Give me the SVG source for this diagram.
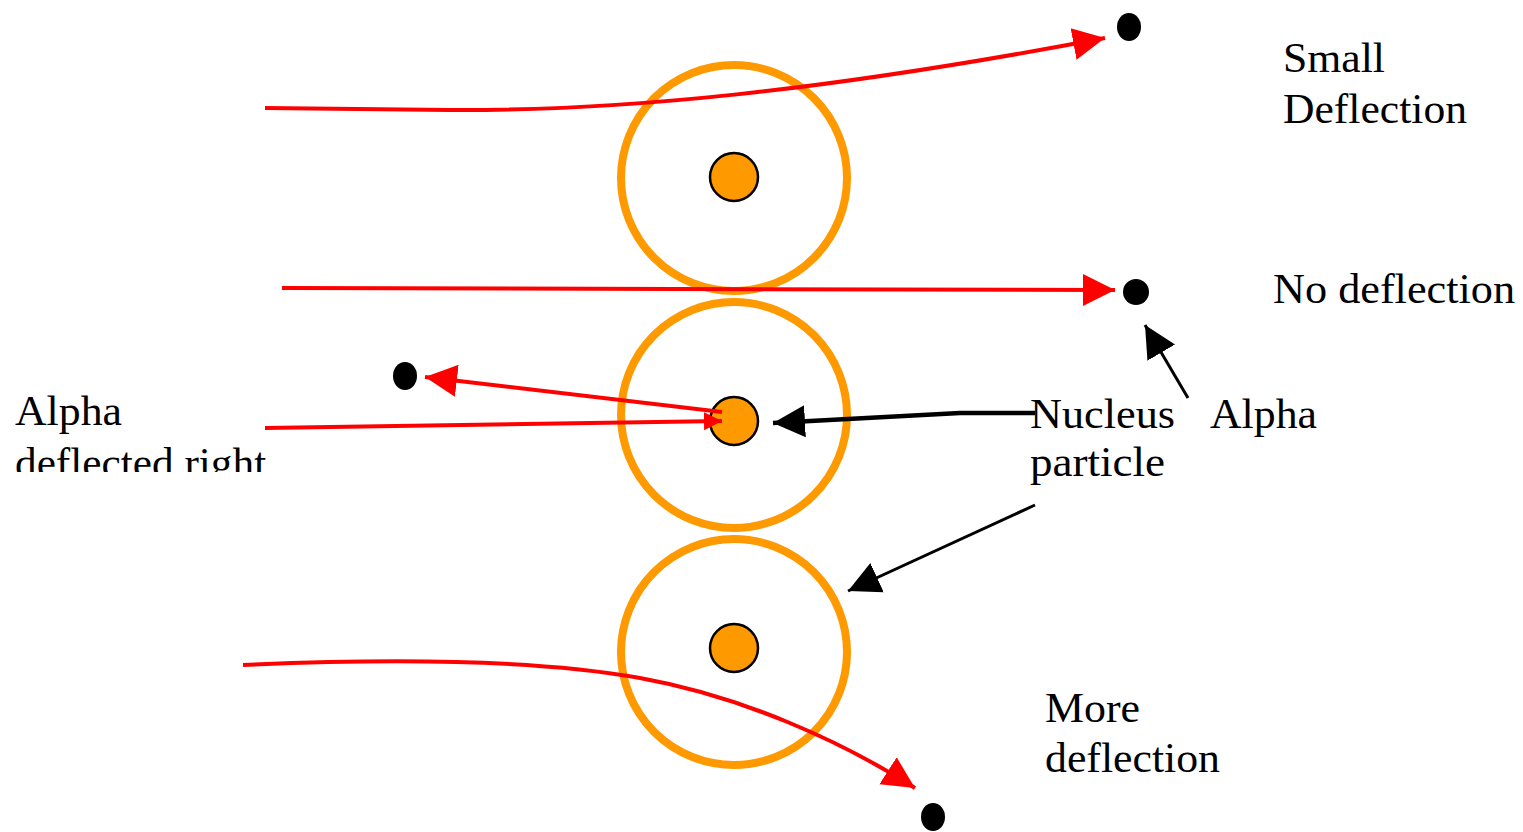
<svg xmlns="http://www.w3.org/2000/svg" width="1523" height="832" viewBox="0 0 1523 832">
<style>
.atom{fill:none;stroke:#FF9900;stroke-width:8}
.nuc{fill:#FF9900;stroke:#000;stroke-width:2.5}
.dot{fill:#000}
.ray{fill:none;stroke:#FF0000;stroke-width:4}
.ptr{fill:none;stroke:#000;stroke-width:3.5}
.lbl{font-family:"Liberation Serif","Times New Roman",serif;font-size:42px;fill:#000}
</style>
<defs>
<marker id="ra" markerUnits="userSpaceOnUse" markerWidth="36" markerHeight="36" refX="32" refY="16" orient="auto" viewBox="0 0 36 32">
<path d="M0,0 L32,16 L0,32 Z" fill="#FF0000"/>
</marker>
<marker id="rs" markerUnits="userSpaceOnUse" markerWidth="20" markerHeight="20" refX="18" refY="9" orient="auto" viewBox="0 0 20 18">
<path d="M0,0 L18,9 L0,18 Z" fill="#FF0000"/>
</marker>
<marker id="ba" markerUnits="userSpaceOnUse" markerWidth="36" markerHeight="36" refX="32" refY="16" orient="auto" viewBox="0 0 36 32">
<path d="M0,0 L32,16 L0,32 Z" fill="#000"/>
</marker>
<clipPath id="clipL"><rect x="0" y="380" width="320" height="92"/></clipPath>
</defs>
<g id="atom-top">
<circle class="atom" cx="734" cy="178" r="113"/>
<circle class="nuc" cx="734" cy="177" r="24"/>
</g>
<g id="atom-middle">
<circle class="atom" cx="734" cy="415" r="113"/>
<circle class="nuc" cx="734" cy="421" r="24"/>
</g>
<g id="atom-bottom">
<circle class="atom" cx="734" cy="652" r="113"/>
<circle class="nuc" cx="734" cy="648" r="24"/>
</g>
<g id="particles">
<ellipse class="dot" cx="1129" cy="27" rx="12" ry="14"/>
<ellipse class="dot" cx="1136" cy="292" rx="13" ry="13"/>
<ellipse class="dot" cx="405" cy="376" rx="12" ry="14"/>
<ellipse class="dot" cx="933" cy="817" rx="12" ry="14"/>
</g>
<g id="connectors">
<path class="ray" d="M265,108 L450,110 C620,111 820,92 1105,38" marker-end="url(#ra)"/>
<path class="ray" d="M282,288 L1115,290" marker-end="url(#ra)"/>
<path class="ray" d="M265,428 L722,421" marker-end="url(#rs)"/>
<path class="ray" d="M722,412 L425,377" marker-end="url(#ra)"/>
<path class="ray" d="M243,665 C400,658 540,660 640,678 C740,696 840,740 915,788" marker-end="url(#ra)"/>
<path class="ptr" style="stroke-width:4.5" d="M1035,413 L960,413 L773,423" marker-end="url(#ba)"/>
<path class="ptr" style="stroke-width:3" d="M1035,505 L848,591" marker-end="url(#ba)"/>
<path class="ptr" style="stroke-width:3" d="M1188,398 L1145,325" marker-end="url(#ba)"/>
</g>
<g id="labels">
<text class="lbl" x="1283" y="72" textLength="102" lengthAdjust="spacingAndGlyphs">Small</text>
<text class="lbl" x="1283" y="123" textLength="184" lengthAdjust="spacingAndGlyphs">Deflection</text>
<text class="lbl" x="1273" y="303" textLength="242" lengthAdjust="spacingAndGlyphs">No deflection</text>
<text class="lbl" x="1030" y="428" textLength="145" lengthAdjust="spacingAndGlyphs">Nucleus</text>
<text class="lbl" x="1030" y="476" textLength="135" lengthAdjust="spacingAndGlyphs">particle</text>
<text class="lbl" x="1210" y="428" textLength="107" lengthAdjust="spacingAndGlyphs">Alpha</text>
<text class="lbl" x="15" y="425" textLength="107" lengthAdjust="spacingAndGlyphs">Alpha</text>
<text class="lbl" x="15" y="477" textLength="262" lengthAdjust="spacingAndGlyphs" clip-path="url(#clipL)">deflected right.</text>
<text class="lbl" x="1045" y="722" textLength="95" lengthAdjust="spacingAndGlyphs">More</text>
<text class="lbl" x="1045" y="772" textLength="175" lengthAdjust="spacingAndGlyphs">deflection</text>
</g>
</svg>
